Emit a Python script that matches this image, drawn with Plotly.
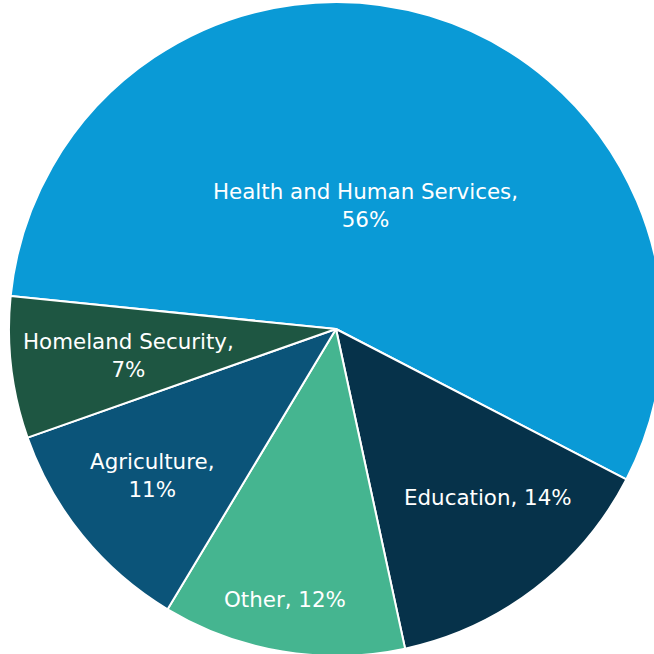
import math
import plotly.graph_objects as go

labels = ["Health and Human Services", "Education", "Other", "Agriculture", "Homeland Security"]
values = [56, 14, 12, 11, 7]
wrap = [True, False, False, True, True]
colors = ["#0a9ad6", "#06324a", "#45b590", "#0b5479", "#1e5642"]

# label placement inside each slice (fraction of radius, angular shift in degrees)
label_radius = [0.39, 0.695, 0.843, 0.72, 0.64]
label_shift = [3.0, 4.6, -1.2, -0.7, 0.4]

W, H = 672, 658
top, size = 2, 654
rotation = -84.2

texts = [f"{l},{'<br>' if w else ' '}{v}%" for l, v, w in zip(labels, values, wrap)]

fig = go.Figure(go.Pie(
    labels=labels,
    values=values,
    textinfo="none",
    sort=False,
    direction="clockwise",
    rotation=rotation,
    marker=dict(colors=colors, line=dict(color="white", width=2)),
    showlegend=False,
    hoverinfo="label+percent",
    domain=dict(x=[0, 1], y=[1 - (top + size) / H, 1 - top / H]),
))

# annotation positions from slice mid-angles
cx, cy, R = W / 2, top + size / 2, size / 2
total = sum(values)
start = 90 - rotation  # math angle of first slice start
cum = 0
for t, v, rf, sh in zip(texts, values, label_radius, label_shift):
    mid = start - (cum + v / 2) / total * 360 + sh
    cum += v
    px = cx + rf * R * math.cos(math.radians(mid))
    py = cy - rf * R * math.sin(math.radians(mid))
    fig.add_annotation(
        x=px / W, y=1 - py / H, xref="paper", yref="paper",
        text=t, showarrow=False, xanchor="center", yanchor="middle",
        font=dict(family="DejaVu Sans", size=21.4, color="white"),
    )

fig.update_layout(
    width=W, height=H,
    autosize=False,
    margin=dict(l=0, r=0, t=0, b=0),
    paper_bgcolor="white",
    plot_bgcolor="white",
)

fig.write_html(
    "out.html",
    config={"displayModeBar": False},
    post_script="document.body.style.margin='0';document.body.style.overflow='hidden';",
)
